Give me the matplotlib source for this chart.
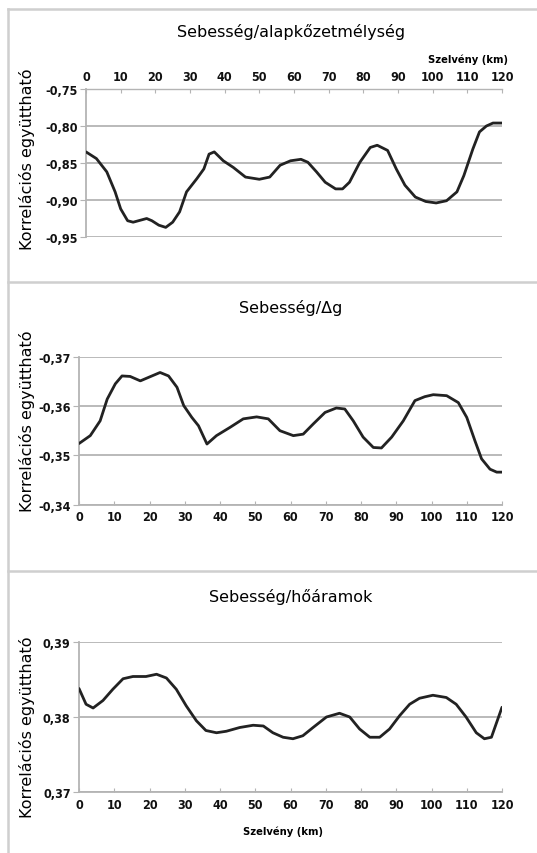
import numpy as np
import matplotlib
matplotlib.use("Agg")
import matplotlib.pyplot as plt
from matplotlib.lines import Line2D
from matplotlib.ticker import FuncFormatter

# --- data (km, correlation coefficient) ---
km1 = [0, 3, 6, 8.4, 10, 12, 13.6, 17.5, 19, 21, 23, 25, 27, 29, 32, 34, 35.5, 37,
       39.6, 42.5, 46, 50, 53, 56, 59, 62, 64, 66.5, 69, 72, 74, 76, 79, 82, 84,
       87, 89.5, 92, 95, 98, 101, 104, 107, 109, 111.6, 113.5, 115.5, 117.4, 120]
r_alap = [-0.835, -0.844, -0.862, -0.889, -0.912, -0.928, -0.930, -0.925, -0.928,
          -0.934, -0.937, -0.930, -0.916, -0.889, -0.871, -0.858, -0.838, -0.835,
          -0.847, -0.856, -0.869, -0.872, -0.869, -0.853, -0.847, -0.845, -0.849,
          -0.862, -0.876, -0.885, -0.885, -0.876, -0.849, -0.829, -0.826, -0.833,
          -0.858, -0.880, -0.896, -0.902, -0.904, -0.901, -0.889, -0.867, -0.831,
          -0.808, -0.800, -0.796, -0.796]

km2 = [0, 3.2, 6, 8, 10.3, 12.2, 14.5, 17.4, 19.7, 23, 25.4, 27.8, 29.7, 32, 33.9,
       36.3, 39, 42.9, 46.6, 50.4, 53.7, 57, 60.8, 63.6, 66.5, 69.8, 73, 75.4, 77.8,
       80.6, 83.5, 85.8, 88.7, 92, 95.3, 98.1, 100.5, 104.3, 107.6, 110, 112.3,
       114.2, 116.6, 118.5, 120]
r_dg = [-0.3524, -0.3540, -0.3570, -0.3614, -0.3645, -0.3661, -0.3660, -0.3651,
        -0.3658, -0.3668, -0.3661, -0.3638, -0.3601, -0.3577, -0.3560, -0.3523,
        -0.3540, -0.3557, -0.3574, -0.3578, -0.3574, -0.3550, -0.3540, -0.3543,
        -0.3564, -0.3587, -0.3596, -0.3594, -0.3570, -0.3537, -0.3516, -0.3515,
        -0.3537, -0.3570, -0.3611, -0.3619, -0.3623, -0.3621, -0.3607, -0.3577,
        -0.3530, -0.3493, -0.3472, -0.3466, -0.3466]

km3 = [0, 2, 4, 6.8, 9.6, 12.5, 15.3, 19, 22, 24.8, 27.6, 30.4, 33.3, 36, 39, 41.8,
       45.6, 49.4, 52.3, 55, 57.9, 60.7, 63.5, 66.4, 70.2, 73.9, 76.8, 79.6, 82.5,
       85.3, 88.1, 91, 93.8, 96.6, 100.4, 104.2, 107, 109.8, 112.7, 115, 117,
       118.5, 120]
r_ho = [0.3838, 0.3817, 0.3812, 0.3822, 0.3837, 0.3851, 0.3854, 0.3854, 0.3857,
        0.3852, 0.3837, 0.3815, 0.3795, 0.3782, 0.3779, 0.3781, 0.3786, 0.3789,
        0.3788, 0.3779, 0.3773, 0.3771, 0.3775, 0.3786, 0.3800, 0.3805, 0.3800,
        0.3784, 0.3773, 0.3773, 0.3784, 0.3802, 0.3817, 0.3825, 0.3829, 0.3826,
        0.3817, 0.3800, 0.3779, 0.3771, 0.3773, 0.3793, 0.3813]

titles = ["Sebesség/alapkőzetmélység", "Sebesség/\u0394g", "Sebesség/hőáramok"]
xticks = list(range(0, 121, 10))
yticks1 = [-0.75, -0.80, -0.85, -0.90, -0.95]
yticks2 = [-0.37, -0.36, -0.35, -0.34]
yticks3 = [0.37, 0.38, 0.39]

ylab = "Korrelációs együttható"
xlab = "Szelvény (km)"

narrow = ["DejaVu Sans"]
plain = ["DejaVu Sans"]
gridc = "#b4b4b4"
framec = "#cfcfcf"

fig = plt.figure(figsize=(5.37, 8.54), dpi=100)
W, H = 537, 854


def box(l, t, r, b):
    return [l / W, 1 - b / H, (r - l) / W, (b - t) / H]


def comma(dec):
    return FuncFormatter(lambda v, p: ("{:.%df}" % dec).format(v).replace(".", ","))


ax1 = fig.add_axes(box(86, 90, 502, 238))
ax2 = fig.add_axes(box(79, 357.7, 502, 505.7))
ax3 = fig.add_axes(box(79, 643, 502, 793))

# ylim given as (bottom, top) as it looks in the picture
setups = [
    (ax1, km1, r_alap, yticks1, (-0.95, -0.75), "top"),
    (ax2, km2, r_dg, yticks2, (-0.34, -0.37), "bottom"),
    (ax3, km3, r_ho, yticks3, (0.37, 0.39), "bottom"),
]

for ax, x, y, yt, ylim, xpos in setups:
    ax.plot(x, y, color="#222222", lw=2.0, solid_joinstyle="round",
            solid_capstyle="round", zorder=3)
    ax.set_xlim(0, 120)
    ax.set_ylim(*ylim)
    ax.set_yticks(yt)
    ax.set_xticks(xticks)
    ax.yaxis.set_major_formatter(comma(2))
    ax.grid(axis="y", color=gridc, lw=1.3)
    ax.spines["right"].set_visible(False)
    ax.spines["left"].set_color(gridc)
    ax.spines["left"].set_linewidth(1.3)
    if xpos == "top":
        ax.spines["bottom"].set_visible(False)
        ax.spines["top"].set_color(gridc)
        ax.spines["top"].set_linewidth(1.0)
        ax.xaxis.tick_top()
    else:
        ax.spines["top"].set_visible(False)
        ax.spines["bottom"].set_color(gridc)
        ax.spines["bottom"].set_linewidth(1.3)
    ax.tick_params(axis="x", direction="in", length=3, color=gridc, pad=4)
    ax.tick_params(axis="y", direction="out", length=4, color=gridc, pad=2)
    for lab in ax.get_xticklabels() + ax.get_yticklabels():
        lab.set_family(narrow)
        lab.set_stretch("condensed")
        lab.set_fontsize(9)
        lab.set_fontweight("bold")
        lab.set_color("#111111")

# titles
for t, yc in zip(titles, [32, 308, 597]):
    fig.text(291 / W, 1 - yc / H, t, ha="center", va="center",
             fontsize=11.5, family=plain)

# y labels
for yc in [159, 421, 727]:
    fig.text(27 / W, 1 - yc / H, ylab, ha="center", va="center",
             rotation=90, fontsize=11.5, family=plain)

# x labels
fig.text(508 / W, 1 - 60 / H, xlab, ha="right", va="center",
         fontsize=8, family=narrow, stretch="condensed", fontweight="bold")
fig.text(283 / W, 1 - 832 / H, xlab, ha="center", va="center",
         fontsize=8, family=narrow, stretch="condensed", fontweight="bold")

# panel frames
lw = 1.8
fig.add_artist(Line2D([8 / W, 8 / W], [0, 1 - 10 / H], color=framec, lw=lw))
for yy in [10, 283, 572]:
    fig.add_artist(Line2D([8 / W, 1], [1 - yy / H, 1 - yy / H], color=framec, lw=lw))

fig.savefig("out.png", dpi=100)
